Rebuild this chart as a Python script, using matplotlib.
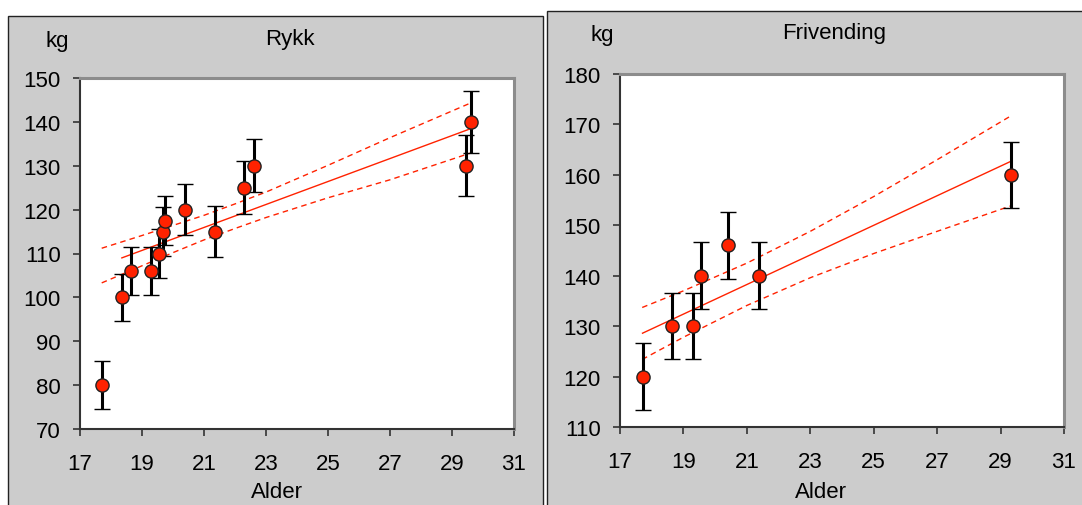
import numpy as np
import matplotlib.pyplot as plt
from matplotlib.patches import Rectangle

plt.rcParams['font.family'] = ['Liberation Sans', 'DejaVu Sans']

# Rykk: age, lift (kg) and error
rykk_alder = [17.70, 18.35, 18.64, 19.29, 19.55, 19.69, 19.75, 20.38, 21.37, 22.30, 22.62, 29.46, 29.62]
rykk_kg = [80, 100, 106, 106, 110, 115, 117.5, 120, 115, 125, 130, 130, 140]
rykk_err = [5.4, 5.4, 5.5, 5.5, 5.6, 5.6, 5.6, 5.8, 5.8, 6.0, 6.0, 7.0, 7.0]
rykk_fit_x = [18.35, 29.62]
rykk_fit_y = [109.0, 138.5]
rykk_band_x = [17.7, 19, 20, 21, 22, 23, 25, 27, 29.6]
rykk_band_hi = [111.2, 114.1, 116.4, 118.7, 121.3, 124.0, 130.1, 136.4, 144.3]
rykk_band_lo = [103.3, 107.2, 110.2, 113.1, 115.7, 118.2, 122.7, 126.8, 132.9]

# Frivending
friv_alder = [17.71, 18.63, 19.31, 19.55, 20.42, 21.38, 29.33]
friv_kg = [120, 130, 130, 140, 146, 140, 160]
friv_err = [6.6, 6.6, 6.6, 6.6, 6.6, 6.6, 6.6]
friv_fit_x = [17.71, 29.33]
friv_fit_y = [128.6, 162.7]
friv_band_x = [17.7, 19, 21, 23, 25, 27, 29.3]
friv_band_hi = [133.7, 137.0, 142.5, 148.8, 155.7, 163.0, 171.6]
friv_band_lo = [123.4, 127.8, 134.1, 139.6, 144.4, 148.8, 153.8]

W, H = 1082, 506
fig = plt.figure(figsize=(W / 100, H / 100), dpi=100)

red = '#ff2200'

# grey chart backgrounds, kept behind the axes
fig.patches.append(Rectangle((8 / W, -0.01), 535 / W, 1 - 17 / H + 0.01, transform=fig.transFigure,
                             facecolor='#cccccc', edgecolor='#222222', lw=1, zorder=-10))
fig.patches.append(Rectangle((547 / W, -0.01), 540 / W, 1 - 12 / H + 0.01, transform=fig.transFigure,
                             facecolor='#cccccc', edgecolor='#222222', lw=1, zorder=-10))


def panel(rect, x, y, err, fit_x, fit_y, band_x, band_hi, band_lo, ylim):
    ax = fig.add_axes(rect)
    ax.set_facecolor('white')
    ax.plot(band_x, band_hi, color=red, lw=1, ls=(0, (4, 3)))
    ax.plot(band_x, band_lo, color=red, lw=1, ls=(0, (4, 3)))
    ax.plot(fit_x, fit_y, color=red, lw=1)
    ax.errorbar(x, y, yerr=err, fmt='o', mfc=red, mec='#222222', mew=1, ms=9.5,
                ecolor='black', elinewidth=2.2, capsize=5.5, capthick=2.2, zorder=3)
    ax.set_xlim(17, 31)
    ax.set_ylim(*ylim)
    ax.set_xticks(range(17, 32, 2))
    ax.set_yticks(range(ylim[0], ylim[1] + 1, 10))
    for s in ['left', 'bottom']:
        ax.spines[s].set_color('#333333')
        ax.spines[s].set_linewidth(1.5)
    for s in ['top', 'right']:
        ax.spines[s].set_color('#8c8c8c')
        ax.spines[s].set_linewidth(2.2)
    ax.tick_params(direction='out', length=5, width=1.2, color='#333333',
                   labelsize=16)
    ax.tick_params(axis='x', pad=12)
    ax.tick_params(axis='y', pad=9)
    return ax


panel([80 / W, 1 - 430 / H, 434 / W, 351 / H], rykk_alder, rykk_kg, rykk_err,
      rykk_fit_x, rykk_fit_y, rykk_band_x, rykk_band_hi, rykk_band_lo, (70, 150))
panel([620 / W, 1 - 428 / H, 444 / W, 353 / H], friv_alder, friv_kg, friv_err,
      friv_fit_x, friv_fit_y, friv_band_x, friv_band_hi, friv_band_lo, (110, 180))

fig.text(57 / W, 1 - 42 / H, 'kg', fontsize=16, ha='center', va='center')
fig.text(290 / W, 1 - 40 / H, 'Rykk', fontsize=16, ha='center', va='center')
fig.text(277 / W, 1 - 493 / H, 'Alder', fontsize=16, ha='center', va='center')

fig.text(602 / W, 1 - 36 / H, 'kg', fontsize=16, ha='center', va='center')
fig.text(834 / W, 1 - 33 / H, 'Frivending', fontsize=16, ha='center', va='center')
fig.text(821 / W, 1 - 493 / H, 'Alder', fontsize=16, ha='center', va='center')

fig.savefig('out.png', dpi=100)
